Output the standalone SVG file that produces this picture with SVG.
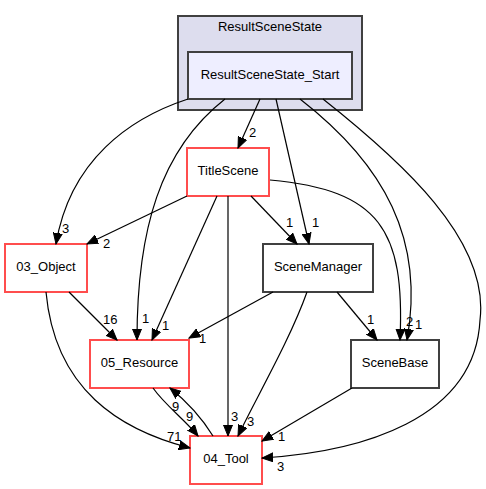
<svg xmlns="http://www.w3.org/2000/svg" width="486" height="489" viewBox="0 0 486 489">
<style>
text{font-family:"Liberation Sans",Arial,sans-serif;font-size:13px;fill:#000}
.n text{text-anchor:middle}
.red{fill:#fff;stroke:#ff4d4d;stroke-width:2}
.blk{fill:#fff;stroke:#404040;stroke-width:2}
.e path{fill:none;stroke:#000;stroke-width:1.2;marker-end:url(#ah)}
</style>
<defs>
<marker id="ah" markerUnits="userSpaceOnUse" markerWidth="12" markerHeight="10" refX="11" refY="4.5" orient="auto" viewBox="0 0 12 9">
<path d="M0,0 L11,4.5 L0,9 Z" fill="#000" stroke="#000"/>
</marker>
</defs>
<rect width="486" height="489" fill="#fff"/>
<g id="cluster_ResultSceneState" class="n">
<rect x="178" y="16" width="184" height="94" fill="#ddddee" stroke="#404040" stroke-width="2"/>
<text x="270" y="31">ResultSceneState</text>
</g>
<g id="node_ResultSceneState_Start" class="n">
<rect x="188" y="52" width="164" height="47" fill="#eeeeff" stroke="#404040" stroke-width="2"/>
<text x="270" y="79">ResultSceneState_Start</text>
</g>
<g id="node_TitleScene" class="n">
<rect class="red" x="187" y="148" width="82" height="48"/>
<text x="228" y="175">TitleScene</text>
</g>
<g id="node_03_Object" class="n">
<rect class="red" x="5" y="244" width="82" height="48"/>
<text x="46" y="271">03_Object</text>
</g>
<g id="node_SceneManager" class="n">
<rect class="blk" x="263" y="244" width="110" height="48"/>
<text x="318" y="271">SceneManager</text>
</g>
<g id="node_05_Resource" class="n">
<rect class="red" x="90" y="340" width="99" height="48"/>
<text x="139.5" y="367">05_Resource</text>
</g>
<g id="node_SceneBase" class="n">
<rect class="blk" x="351" y="340" width="88" height="48"/>
<text x="395" y="367">SceneBase</text>
</g>
<g id="node_04_Tool" class="n">
<rect class="red" x="190" y="436" width="72" height="48"/>
<text x="226" y="463">04_Tool</text>
</g>
<g id="connectors" class="e">
<path d="M188,99 C130,118 70,160 56,244"/>
<path d="M225,99 C160,150 137,230 137,340"/>
<path d="M260,99 L238,148"/>
<path d="M276,99 L309,244"/>
<path d="M300,99 C385,165 425,240 407,340"/>
<path d="M323,99 C400,160 490,240 480,320 C475,420 360,452 262,458"/>
<path d="M187,196 L87,244"/>
<path d="M217,196 L152,340"/>
<path d="M228,196 L228,436"/>
<path d="M251,196 L297,244"/>
<path d="M270,180 C380,190 405,230 400,340"/>
<path d="M69,292 L117,340"/>
<path d="M46,292 C55,390 120,430 190,448"/>
<path d="M273,292 L189,338"/>
<path d="M307,292 C290,340 255,400 238,436"/>
<path d="M337,292 L377,340"/>
<path d="M352,388 L262,441"/>
<path d="M153,388 C165,405 185,420 198,436"/>
<path d="M213,436 C200,415 185,400 170,388"/>
<text x="62" y="233">3</text>
<text x="142" y="323">1</text>
<text x="249" y="137">2</text>
<text x="312" y="227">1</text>
<text x="415" y="329">1</text>
<text x="277" y="471">3</text>
<text x="103" y="248">2</text>
<text x="162" y="330">1</text>
<text x="231" y="421">3</text>
<text x="286" y="227">1</text>
<text x="406" y="326">2</text>
<text x="103" y="324">16</text>
<text x="167" y="441">71</text>
<text x="199" y="343">1</text>
<text x="247" y="426">3</text>
<text x="367" y="324">1</text>
<text x="278" y="441">1</text>
<text x="172" y="411">9</text>
<text x="186" y="421">9</text>
</g>
</svg>
